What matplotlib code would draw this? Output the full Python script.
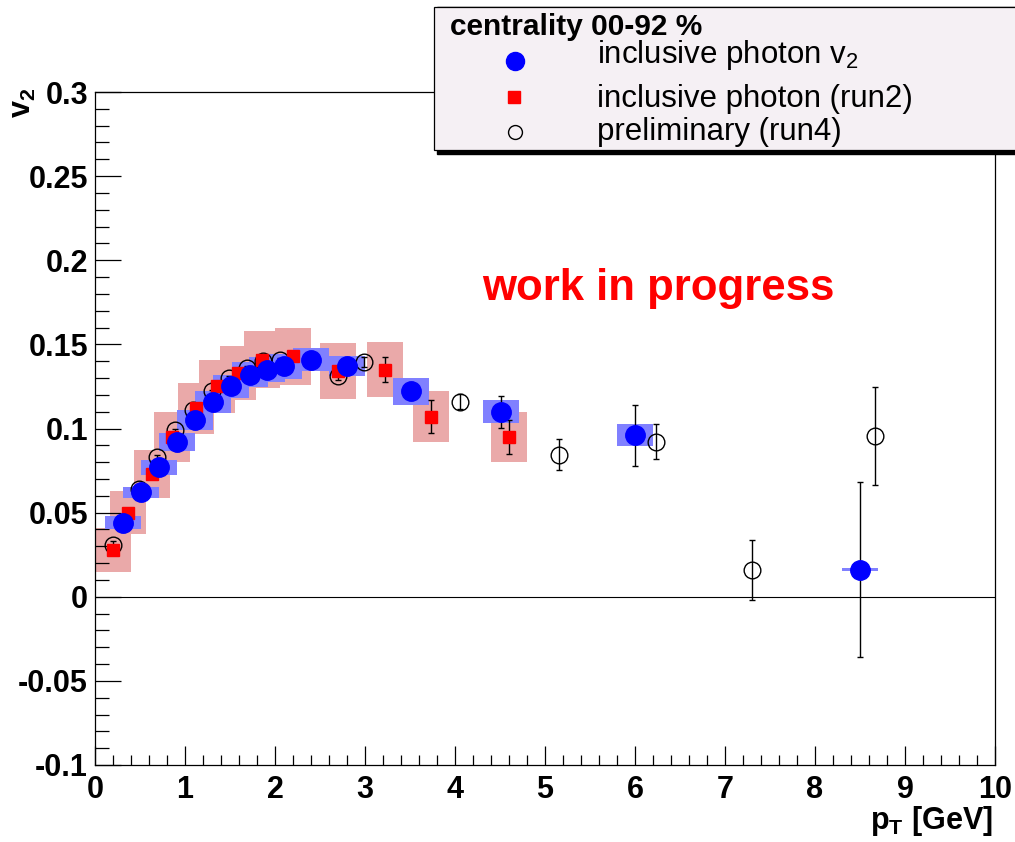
import numpy as np
import matplotlib.pyplot as plt
from matplotlib.patches import Rectangle
from matplotlib.lines import Line2D
from matplotlib.ticker import MultipleLocator, FuncFormatter

plt.rcParams['font.family'] = 'Liberation Sans'
plt.rcParams['mathtext.fontset'] = 'custom'
plt.rcParams['mathtext.rm'] = 'Liberation Sans'
plt.rcParams['mathtext.bf'] = 'Liberation Sans:bold'
plt.rcParams['mathtext.it'] = 'Liberation Sans:italic'

# inclusive photon v2 (blue)
pt_v2 = [0.31, 0.51, 0.71, 0.91, 1.11, 1.31, 1.51, 1.72, 1.91, 2.10, 2.40, 2.80, 3.51, 4.51, 6.00, 8.50]
v2 = [0.044, 0.062, 0.077, 0.092, 0.105, 0.116, 0.125, 0.132, 0.135, 0.137, 0.141, 0.137, 0.122, 0.110, 0.096, 0.016]
v2_stat = [0.001, 0.001, 0.001, 0.001, 0.001, 0.001, 0.001, 0.001, 0.001, 0.001, 0.0015, 0.002, 0.003, 0.0095, 0.018, 0.052]
v2_sys = [0.004, 0.0035, 0.0045, 0.0055, 0.006, 0.0065, 0.007, 0.0075, 0.0075, 0.0075, 0.007, 0.006, 0.008, 0.007, 0.0065, 0.0008]

# inclusive photon (run2) (red)
pt_run2 = [0.20, 0.37, 0.63, 0.85, 1.12, 1.35, 1.59, 1.85, 2.20, 2.70, 3.22, 3.73, 4.60]
v2_run2 = [0.028, 0.050, 0.073, 0.095, 0.112, 0.125, 0.133, 0.141, 0.143, 0.134, 0.135, 0.107, 0.095]
run2_stat = [0.001, 0.001, 0.001, 0.001, 0.001, 0.001, 0.001, 0.001, 0.0015, 0.003, 0.0073, 0.0098, 0.010]
run2_sys = [0.013, 0.013, 0.0145, 0.015, 0.015, 0.0155, 0.016, 0.017, 0.017, 0.0166, 0.0165, 0.015, 0.015]

# preliminary (run4) (open circles)
pt_run4 = [0.20, 0.49, 0.69, 0.89, 1.09, 1.30, 1.49, 1.69, 1.87, 2.06, 2.70, 2.99, 4.05, 5.16, 6.23, 7.30, 8.67]
v2_run4 = [0.031, 0.064, 0.083, 0.099, 0.111, 0.122, 0.130, 0.136, 0.140, 0.141, 0.131, 0.1395, 0.116, 0.0845, 0.092, 0.016, 0.0957]
run4_err = [0.002, 0.001, 0.001, 0.001, 0.001, 0.001, 0.001, 0.001, 0.001, 0.001, 0.002, 0.003, 0.0045, 0.009, 0.0104, 0.018, 0.029]

W, H = 1015, 842
fig = plt.figure(figsize=(W / 100, H / 100), dpi=100)
ax = fig.add_axes([95 / W, 1 - 765 / H, 900 / W, 673 / H])
ax.set_xlim(0, 10)
ax.set_ylim(-0.1, 0.3)

# systematic boxes
r2 = np.array(v2_run2)
r2s = np.array(run2_sys)
ax.bar(pt_run2, 2 * r2s, width=0.4, bottom=r2 - r2s, color='#eaa9a9', zorder=1)
b = np.array(v2)
bs = np.array(v2_sys)
ax.bar(pt_v2, 2 * bs, width=0.4, bottom=b - bs, color='#8080ff', zorder=2)

ax.axhline(0, color='black', lw=0.8, zorder=1.5)

ax.errorbar(pt_run4, v2_run4, yerr=run4_err, fmt='o', ms=12, mfc='none', mec='black', mew=1.0,
            ecolor='black', elinewidth=1.0, capsize=2.5, zorder=3)
ax.errorbar(pt_run2, v2_run2, yerr=run2_stat, fmt='s', ms=9, mfc='red', mec='red',
            ecolor='black', elinewidth=1.0, capsize=2.5, zorder=4)
ax.errorbar(pt_v2, v2, yerr=v2_stat, fmt='o', ms=14, mfc='blue', mec='blue',
            ecolor='black', elinewidth=1.0, capsize=2.5, zorder=5)

# axes style
for s in ax.spines.values():
    s.set_linewidth(0.9)
ax.xaxis.set_major_locator(MultipleLocator(1))
ax.xaxis.set_minor_locator(MultipleLocator(0.2))
ax.yaxis.set_major_locator(MultipleLocator(0.05))
ax.yaxis.set_minor_locator(MultipleLocator(0.01))


def fmt(v, p):
    s = f'{round(v, 3):g}'
    return '0' if s == '-0' else s


ax.xaxis.set_major_formatter(FuncFormatter(fmt))
ax.yaxis.set_major_formatter(FuncFormatter(fmt))
ax.tick_params(axis='both', which='both', direction='in', top=False, right=False, width=0.9)
ax.tick_params(axis='y', which='major', length=19, pad=5, labelsize=22)
ax.tick_params(axis='y', which='minor', length=10)
ax.tick_params(axis='x', which='major', length=14, pad=7, labelsize=22)
ax.tick_params(axis='x', which='minor', length=7)
for lab in ax.get_xticklabels() + ax.get_yticklabels():
    lab.set_fontweight('bold')

ax.text(6.26, 0.1766, 'work in progress', color='red', fontweight='bold', fontsize=31.5,
        ha='center', va='baseline')

fig.text(993 / W, 1 - 829 / H, r'$\mathbf{p_T\ [GeV]}$', fontsize=22, ha='right', va='baseline')
fig.text(23 / W, 1 - 88 / H, r'$\mathbf{v_2}$', fontsize=22, rotation=90, ha='center', va='top')

# legend box
fig.patches.append(Rectangle((437 / W, 1 - 154 / H), 700 / W, 147 / H, transform=fig.transFigure,
                             facecolor='black', edgecolor='black', zorder=5))
fig.patches.append(Rectangle((433.5 / W, 1 - 150 / H), 700 / W, 143 / H, transform=fig.transFigure,
                             facecolor='#f5f0f4', edgecolor='black', lw=0.9, zorder=6))
fig.text(450 / W, 1 - 35 / H, 'centrality 00-92 %', fontweight='bold', fontsize=21.5, va='baseline', zorder=7)
fig.add_artist(Line2D([515 / W], [1 - 61 / H], marker='o', ms=13, mfc='blue', mec='blue',
                      transform=fig.transFigure, zorder=7))
fig.add_artist(Line2D([514 / W], [1 - 97 / H], marker='s', ms=9, mfc='red', mec='red',
                      transform=fig.transFigure, zorder=7))
fig.add_artist(Line2D([515 / W], [1 - 132 / H], marker='o', ms=10, mfc='none', mec='black', mew=1.0,
                      transform=fig.transFigure, zorder=7))
fig.text(597 / W, 1 - 63 / H, r'$\mathrm{inclusive\ photon\ v_2}$', fontsize=22.5, va='baseline', zorder=7)
fig.text(597 / W, 1 - 107 / H, 'inclusive photon (run2)', fontsize=22.5, va='baseline', zorder=7)
fig.text(597 / W, 1 - 140 / H, 'preliminary (run4)', fontsize=22.5, va='baseline', zorder=7)

fig.savefig('out.png', dpi=100)
